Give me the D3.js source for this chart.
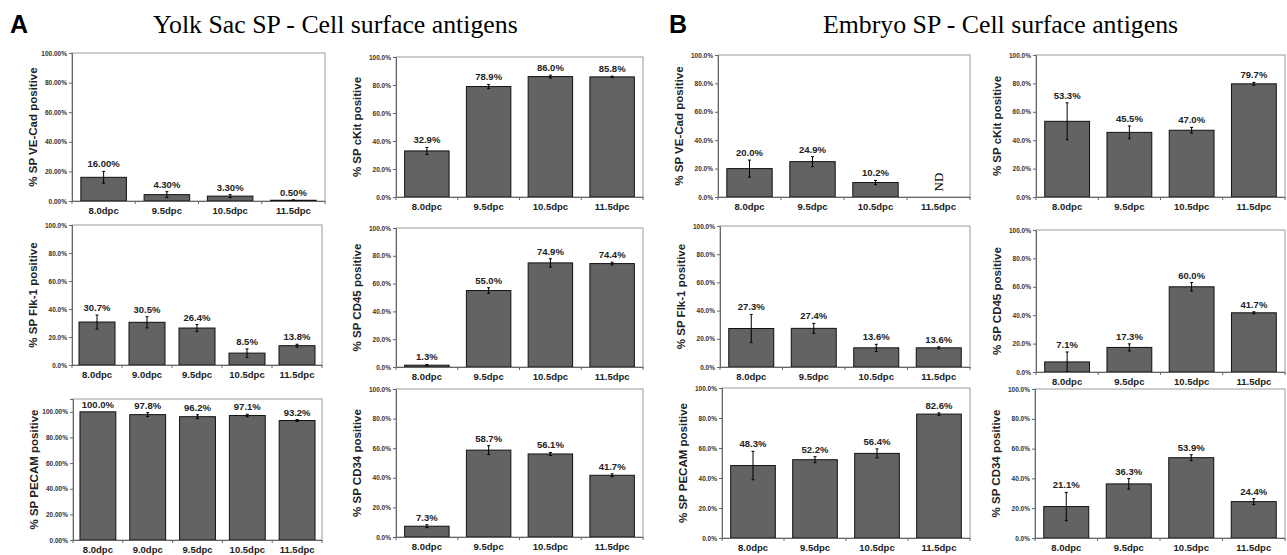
<!DOCTYPE html>
<html>
<head>
<meta charset="utf-8">
<script src="https://cdn.jsdelivr.net/npm/d3@7"></script>
<style>
  body { margin: 0; background: #fff; }
  svg { display: block; }
  .tick text { font-family: "Liberation Sans", Arial, sans-serif; font-weight: bold; }
</style>
</head>
<body>
<svg id="chart"></svg>
<script>
const width = 1287;
const height = 555;

// categories
const dpc4 = ["8.0dpc", "9.5dpc", "10.5dpc", "11.5dpc"];
const dpc5 = ["8.0dpc", "9.0dpc", "9.5dpc", "10.5dpc", "11.5dpc"];
const yTicks = [0, 20, 40, 60, 80, 100];

// Yolk sac SP (percent positive, error)
const yolkVeCad = [16.0, 4.3, 3.3, 0.5];
const yolkVeCadErr = [4, 2, 1, 0.3];
const yolkCkit = [32.9, 78.9, 86.0, 85.8];
const yolkCkitErr = [2.5, 1.5, 1, 0.5];
const yolkFlk1 = [30.7, 30.5, 26.4, 8.5, 13.8];
const yolkFlk1Err = [5, 4, 2.5, 3, 1];
const yolkCd45 = [1.3, 55.0, 74.9, 74.4];
const yolkCd45Err = [0.5, 2, 3, 1];
const yolkPecam = [100.0, 97.8, 96.2, 97.1, 93.2];
const yolkPecamErr = [0, 1.5, 1.5, 1, 0.8];
const yolkCd34 = [7.3, 58.7, 56.1, 41.7];
const yolkCd34Err = [1, 3, 1, 1];

// Embryo SP
const embVeCad = [20.0, 24.9, 10.2, null];
const embVeCadErr = [6, 3.5, 1.5, 0];
const embCkit = [53.3, 45.5, 47.0, 79.7];
const embCkitErr = [13, 4.5, 2, 1];
const embFlk1 = [27.3, 27.4, 13.6, 13.6];
const embFlk1Err = [10, 3.5, 2.5, 0.7];
const embCd45 = [7.1, 17.3, 60.0, 41.7];
const embCd45Err = [7, 2.5, 3, 0.7];
const embPecam = [48.3, 52.2, 56.4, 82.6];
const embPecamErr = [9.5, 2, 3, 0.8];
const embCd34 = [21.1, 36.3, 53.9, 24.4];
const embCd34Err = [9.5, 3.5, 2, 2];

const panels = [
  { label: "% SP VE-Cad positive", cats: dpc4, vals: yolkVeCad, errs: yolkVeCadErr, tickDec: 2, valDec: 2, max: 100 },
  { label: "% SP cKit positive", cats: dpc4, vals: yolkCkit, errs: yolkCkitErr, tickDec: 1, valDec: 1, max: 100 },
  { label: "% SP Flk-1 positive", cats: dpc5, vals: yolkFlk1, errs: yolkFlk1Err, tickDec: 1, valDec: 1, max: 100 },
  { label: "% SP CD45 positive", cats: dpc4, vals: yolkCd45, errs: yolkCd45Err, tickDec: 1, valDec: 1, max: 100 },
  { label: "% SP PECAM positive", cats: dpc5, vals: yolkPecam, errs: yolkPecamErr, tickDec: 2, valDec: 1, max: 110 },
  { label: "% SP CD34 positive", cats: dpc4, vals: yolkCd34, errs: yolkCd34Err, tickDec: 1, valDec: 1, max: 100 },
  { label: "% SP VE-Cad positive", cats: dpc4, vals: embVeCad, errs: embVeCadErr, tickDec: 1, valDec: 1, max: 100 },
  { label: "% SP cKit positive", cats: dpc4, vals: embCkit, errs: embCkitErr, tickDec: 1, valDec: 1, max: 100 },
  { label: "% SP Flk-1 positive", cats: dpc4, vals: embFlk1, errs: embFlk1Err, tickDec: 1, valDec: 1, max: 100 },
  { label: "% SP CD45 positive", cats: dpc4, vals: embCd45, errs: embCd45Err, tickDec: 1, valDec: 1, max: 100 },
  { label: "% SP PECAM positive", cats: dpc4, vals: embPecam, errs: embPecamErr, tickDec: 1, valDec: 1, max: 100 },
  { label: "% SP CD34 positive", cats: dpc4, vals: embCd34, errs: embCd34Err, tickDec: 1, valDec: 1, max: 100 }
];

// plot boxes: left, top, right, bottom
const boxes = [
  [72, 53, 325, 201], [396, 57, 643, 197],
  [72, 225, 322, 365], [396, 228, 643, 367],
  [73, 399, 322, 540], [396, 389, 643, 537],
  [718, 55, 970, 197], [1036, 55, 1285, 197],
  [720, 226, 970, 367], [1036, 230, 1285, 372],
  [722, 388, 970, 538], [1035, 389, 1285, 538]
];

const sans = "'Liberation Sans', Arial, sans-serif";
const serif = "'Liberation Serif', 'Times New Roman', serif";

const svg = d3.select("#chart")
    .attr("width", width)
    .attr("height", height);

// headings
svg.append("text").attr("x", 10).attr("y", 33)
    .attr("font-family", sans).attr("font-weight", "bold").attr("font-size", 25)
    .text("A");
svg.append("text").attr("x", 153).attr("y", 33)
    .attr("font-family", serif).attr("font-size", 25.8)
    .text("Yolk Sac SP - Cell surface antigens");
svg.append("text").attr("x", 669).attr("y", 33)
    .attr("font-family", sans).attr("font-weight", "bold").attr("font-size", 25)
    .text("B");
svg.append("text").attr("x", 823).attr("y", 33)
    .attr("font-family", serif).attr("font-size", 25.8)
    .text("Embryo SP - Cell surface antigens");

panels.forEach((p, i) => {
    const [left, top, right, bottom] = boxes[i];
    const g = svg.append("g");

    const x = d3.scaleBand()
        .domain(p.cats)
        .range([left, right])
        .paddingInner(0.28)
        .paddingOuter(0.14);
    const y = d3.scaleLinear()
        .domain([0, p.max])
        .range([bottom, top]);

    // frame
    g.append("rect")
        .attr("x", left).attr("y", top)
        .attr("width", right - left).attr("height", bottom - top)
        .attr("fill", "none").attr("stroke", "#9a9a9a").attr("stroke-width", 1);

    // bars
    const data = p.cats.map((c, j) => ({ cat: c, v: p.vals[j], e: p.errs[j] }));
    const present = data.filter(d => d.v !== null);

    g.selectAll("rect.bar")
        .data(present)
        .enter().append("rect")
        .attr("class", "bar")
        .attr("x", d => x(d.cat))
        .attr("y", d => y(d.v))
        .attr("width", x.bandwidth())
        .attr("height", d => y(0) - y(d.v))
        .attr("fill", "#636363")
        .attr("stroke", "#111")
        .attr("stroke-width", 1);

    // error bars
    const eb = g.selectAll("g.err")
        .data(present.filter(d => d.e > 0))
        .enter().append("g")
        .attr("stroke", "#000").attr("stroke-width", 1);
    eb.append("line")
        .attr("x1", d => x(d.cat) + x.bandwidth() / 2)
        .attr("x2", d => x(d.cat) + x.bandwidth() / 2)
        .attr("y1", d => y(Math.max(0, d.v - d.e)))
        .attr("y2", d => y(d.v + d.e));
    eb.append("line")
        .attr("x1", d => x(d.cat) + x.bandwidth() / 2 - 1.5)
        .attr("x2", d => x(d.cat) + x.bandwidth() / 2 + 1.5)
        .attr("y1", d => y(d.v + d.e))
        .attr("y2", d => y(d.v + d.e));
    eb.append("line")
        .attr("x1", d => x(d.cat) + x.bandwidth() / 2 - 1.5)
        .attr("x2", d => x(d.cat) + x.bandwidth() / 2 + 1.5)
        .attr("y1", d => y(Math.max(0, d.v - d.e)))
        .attr("y2", d => y(Math.max(0, d.v - d.e)));

    // value labels
    g.selectAll("text.val")
        .data(present)
        .enter().append("text")
        .attr("class", "val")
        .attr("x", d => x(d.cat) + x.bandwidth() / 2)
        .attr("y", d => y(d.v + d.e) - 4)
        .attr("text-anchor", "middle")
        .attr("font-family", sans).attr("font-weight", "bold").attr("font-size", 9.5)
        .attr("fill", "#222")
        .text(d => d.v.toFixed(p.valDec) + "%");

    // ND marker for missing values
    data.filter(d => d.v === null).forEach(d => {
        const cx = x(d.cat) + x.bandwidth() / 2;
        const cy = bottom - 15;
        g.append("text")
            .attr("transform", `translate(${cx + 4},${cy}) rotate(-90)`)
            .attr("text-anchor", "middle")
            .attr("font-family", serif).attr("font-size", 13)
            .text("ND");
    });

    // y axis
    const yAxis = g.append("g")
        .attr("transform", `translate(${left},0)`)
        .call(d3.axisLeft(y)
            .tickValues(yTicks)
            .tickFormat(d => d.toFixed(p.tickDec) + "%")
            .tickSize(3)
            .tickPadding(2));
    yAxis.select(".domain").attr("stroke", "#666");
    yAxis.selectAll(".tick line").attr("stroke", "#666");
    yAxis.selectAll(".tick text").attr("font-size", 6.5).attr("fill", "#333");

    // x axis labels
    const xAxis = g.append("g")
        .attr("transform", `translate(0,${bottom})`)
        .call(d3.axisBottom(x).tickSize(0).tickPadding(6));
    xAxis.select(".domain").attr("stroke", "#666");
    xAxis.selectAll(".tick text").attr("font-size", 9.5).attr("fill", "#222");

    // category boundary ticks
    g.selectAll("line.bnd")
        .data(d3.range(p.cats.length + 1))
        .enter().append("line")
        .attr("x1", k => left + k * x.step())
        .attr("x2", k => left + k * x.step())
        .attr("y1", bottom)
        .attr("y2", bottom + 3)
        .attr("stroke", "#666");

    // y title
    g.append("text")
        .attr("transform", `translate(${left - 35},${(top + bottom) / 2}) rotate(-90)`)
        .attr("text-anchor", "middle")
        .attr("font-family", sans).attr("font-weight", "bold").attr("font-size", 11.5)
        .attr("fill", "#222")
        .text(p.label);
});
</script>
</body>
</html>
